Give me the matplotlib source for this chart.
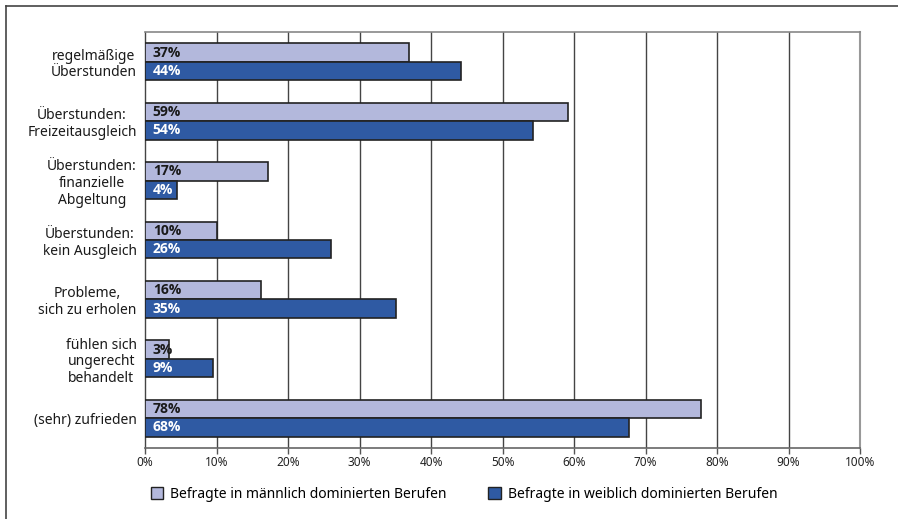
import matplotlib
matplotlib.use('Agg')
import matplotlib.pyplot as plt
from matplotlib.patches import Patch
import numpy as np

categories = ['regelmäßige\nÜberstunden', 'Überstunden:\nFreizeitausgleich',
              'Überstunden:\nfinanzielle\nAbgeltung', 'Überstunden:\nkein Ausgleich',
              'Probleme,\nsich zu erholen', 'fühlen sich\nungerecht\nbehandelt',
              '(sehr) zufrieden']
# bar lengths as drawn, and the printed labels
maennlich = [36.9, 59.2, 17.2, 10.1, 16.2, 3.4, 77.8]
weiblich = [44.2, 54.3, 4.5, 26.0, 35.1, 9.5, 67.7]
maennlich_lbl = ['37%', '59%', '17%', '10%', '16%', '3%', '78%']
weiblich_lbl = ['44%', '54%', '4%', '26%', '35%', '9%', '68%']
xticks = list(range(0, 101, 10))
xtick_labels = [f'{t}%' for t in xticks]
series_names = ['Befragte in männlich dominierten Berufen',
                'Befragte in weiblich dominierten Berufen']

LIGHT = '#b3b8dc'
DARK = '#2f5aa3'
EDGE = '#222222'

plt.rcParams['font.family'] = ['Noto Sans', 'DejaVu Sans']

fig = plt.figure(figsize=(8.98, 5.19), dpi=100)
ax = fig.add_axes([145/898, 1-448/519, 715/898, 416/519])

y = np.arange(len(categories))
h = 0.31
ax.barh(y - h/2, maennlich, height=h, color=LIGHT, edgecolor=EDGE, linewidth=1.2, zorder=3)
ax.barh(y + h/2, weiblich, height=h, color=DARK, edgecolor=EDGE, linewidth=1.2, zorder=3)

bold_font = ['Open Sans', 'DejaVu Sans']
for i in range(len(categories)):
    ax.text(1.1, y[i] - h/2, maennlich_lbl[i], ha='left', va='center', fontsize=10,
            fontweight='bold', family=bold_font, color='#1a1a1a', zorder=4)
    ax.text(1.1, y[i] + h/2, weiblich_lbl[i], ha='left', va='center', fontsize=10,
            fontweight='bold', family=bold_font, color='white', zorder=4)

ax.set_xlim(0, 100)
ax.set_ylim(len(categories) - 0.5, -0.5)
ax.set_xticks(xticks)
ax.set_xticklabels(xtick_labels, fontsize=8.5, color='#222222')
ax.set_yticks(y)
ax.set_yticklabels(categories, fontsize=10, color='#1a1a1a', linespacing=1.15)
for lbl in ax.get_yticklabels():
    lbl.set_multialignment('center')
ax.tick_params(axis='y', length=0, pad=6)
ax.tick_params(axis='x', length=4, width=1, color='#555555', pad=2)

for t in xticks[1:-1]:
    ax.axvline(t, color='#444444', linewidth=1, zorder=1)
ax.spines['top'].set_color('#888888')
ax.spines['top'].set_linewidth(1.2)
ax.spines['right'].set_color('#999999')
ax.spines['right'].set_linewidth(1.5)
ax.spines['left'].set_color('#444444')
ax.spines['left'].set_linewidth(1)
ax.spines['bottom'].set_color('#666666')
ax.spines['bottom'].set_linewidth(1.2)

# outer frame (left and top only)
fig.add_artist(plt.Line2D([6/898, 6/898], [0, 1-6/519], color='#444444', linewidth=1.2,
                          transform=fig.transFigure))
fig.add_artist(plt.Line2D([6/898, 1], [1-6/519, 1-6/519], color='#444444', linewidth=1.2,
                          transform=fig.transFigure))

handles = [Patch(facecolor=LIGHT, edgecolor=EDGE, linewidth=1),
           Patch(facecolor=DARK, edgecolor=EDGE, linewidth=1)]
fig.legend(handles, series_names, loc='center left', bbox_to_anchor=(138/898, 1-494/519),
           ncol=2, frameon=False, fontsize=10, handlelength=0.9, handleheight=1.0,
           handletextpad=0.5, columnspacing=3.0)

fig.savefig('out.png', dpi=100)
